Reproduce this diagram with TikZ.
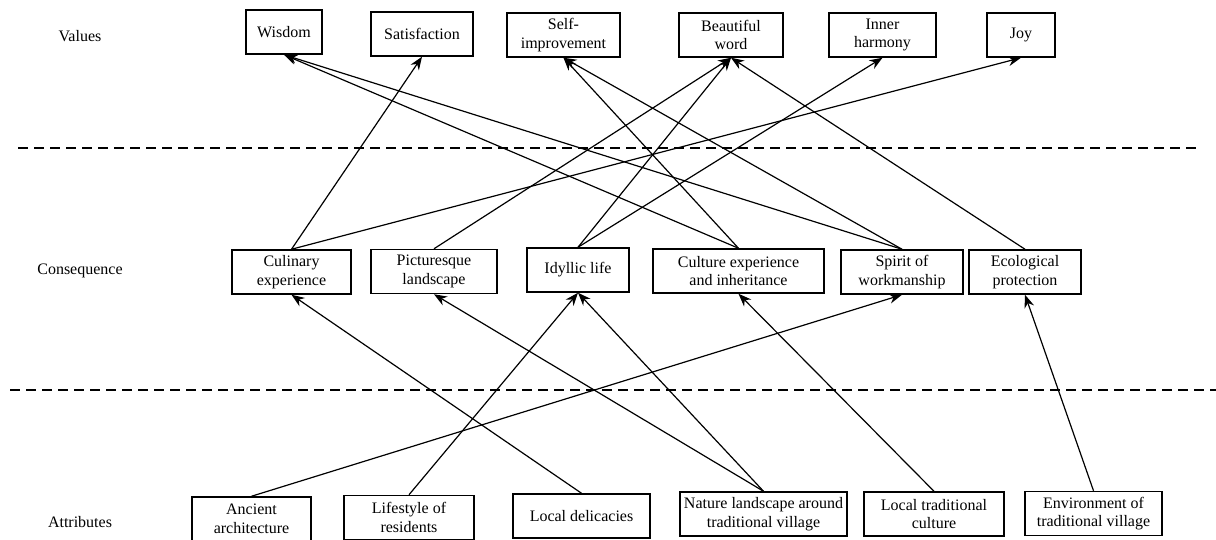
\documentclass[tikz,border=0pt]{standalone}
\usepackage{fontspec}
\setmainfont{Liberation Serif}
\usetikzlibrary{arrows.meta}

\begin{document}
\begin{tikzpicture}[x=1pt,y=-1pt,
      every node/.style={font=\fontsize{16}{18.5}\selectfont},
      box/.style={draw,line width=1.5pt,align=center,minimum height=44pt,inner sep=2pt},
      link/.style={-{Stealth[length=13pt,width=10pt]},line width=1.2pt},
      levelsep/.style={dash pattern=on 10pt off 6pt,line width=1.2pt}]
   \useasboundingbox (0,0) rectangle (1216,540);
   % level names
   \node (lvalues) at (80,36) {Values};
   \node (lconseq) at (80,271) {Consequence};
   \node (lattrib) at (80,522) {Attributes};
   % values
   \node[box,minimum width=76pt] (wisdom) at (284,32) {Wisdom};
   \node[box,minimum width=102pt] (satisf) at (422,34) {Satisfaction};
   \node[box,minimum width=113pt] (selfimp) at (563.5,35) {Self-\\improvement};
   \node[box,minimum width=104pt] (beauty) at (731,35) {Beautiful\\word};
   \node[box,minimum width=107pt] (harmony) at (882.5,35) {Inner\\harmony};
   \node[box,minimum width=68pt] (joy) at (1021,35) {Joy};
   % consequences
   \node[box,minimum width=119pt] (culinary) at (291.5,272) {Culinary\\experience};
   \node[box,minimum width=126pt] (pictur) at (434,271.5) {Picturesque\\landscape};
   \node[box,minimum width=102pt] (idyllic) at (578,270) {Idyllic life};
   \node[box,minimum width=171pt] (culture) at (738.5,271) {Culture experience\\and inheritance};
   \node[box,minimum width=122pt] (spirit) at (902,272) {Spirit of\\workmanship};
   \node[box,minimum width=112pt] (ecology) at (1025,272) {Ecological\\protection};
   % attributes
   \node[box,minimum width=119pt] (ancient) at (251.5,519) {Ancient\\architecture};
   \node[box,minimum width=130pt] (lifestyle) at (409,517.5) {Lifestyle of\\residents};
   \node[box,minimum width=137pt] (delicacy) at (581.5,516) {Local delicacies};
   \node[box,minimum width=167pt] (nature) at (763.5,514) {Nature landscape around\\traditional village};
   \node[box,minimum width=140pt] (localcult) at (934,514) {Local traditional\\culture};
   \node[box,minimum width=137pt] (environ) at (1093.5,513.5) {Environment of\\traditional village};
   % separators
   \draw[levelsep] (18,148) -- (1202,148);
   \draw[levelsep] (10,390) -- (1216,390);
   % attributes to consequences
   \draw[link] (ancient.north) -- (spirit.south);
   \draw[link] (lifestyle.north) -- (idyllic.south);
   \draw[link] (delicacy.north) -- (culinary.south);
   \draw[link] (nature.north) -- (pictur.south);
   \draw[link] (nature.north) -- (idyllic.south);
   \draw[link] (localcult.north) -- (culture.south);
   \draw[link] (environ.north) -- (ecology.south);
   % consequences to values
   \draw[link] (culinary.north) -- (satisf.south);
   \draw[link] (culinary.north) -- (joy.south);
   \draw[link] (pictur.north) -- (beauty.south);
   \draw[link] (idyllic.north) -- (beauty.south);
   \draw[link] (idyllic.north) -- (harmony.south);
   \draw[link] (culture.north) -- (wisdom.south);
   \draw[link] (culture.north) -- (selfimp.south);
   \draw[link] (spirit.north) -- (wisdom.south);
   \draw[link] (spirit.north) -- (selfimp.south);
   \draw[link] (ecology.north) -- (beauty.south);
\end{tikzpicture}
\end{document}
